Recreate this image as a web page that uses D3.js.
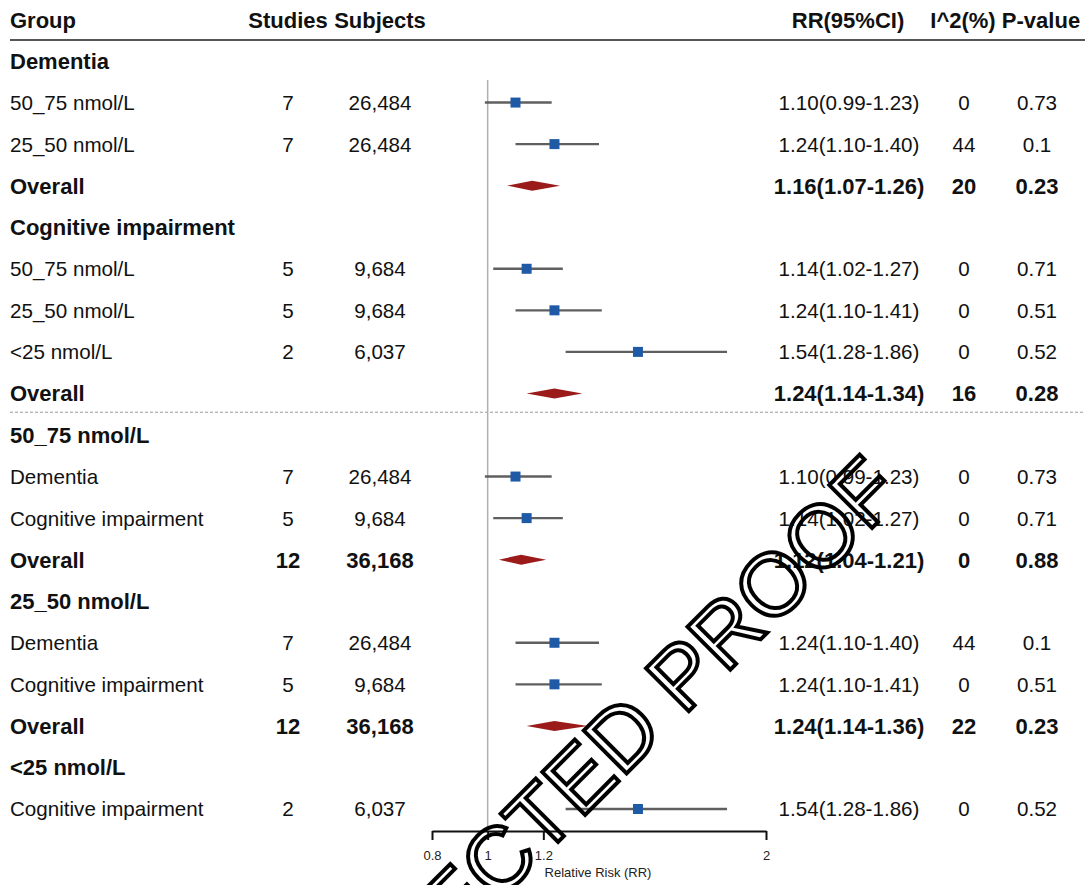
<!DOCTYPE html>
<html>
<head>
<meta charset="utf-8">
<script src="https://cdn.jsdelivr.net/npm/d3@7"></script>
<style>
  body { margin: 0; background: #fff; }
  svg { display: block; font-family: "Liberation Sans", Arial, sans-serif; }
</style>
</head>
<body>
<svg id="chart" width="1090" height="885"></svg>
<script>

// rows of the forest plot, top to bottom
var groupLabels = ["Dementia", "50_75 nmol/L", "25_50 nmol/L", "Overall",
    "Cognitive impairment", "50_75 nmol/L", "25_50 nmol/L", "<25 nmol/L", "Overall",
    "50_75 nmol/L", "Dementia", "Cognitive impairment", "Overall",
    "25_50 nmol/L", "Dementia", "Cognitive impairment", "Overall",
    "<25 nmol/L", "Cognitive impairment"];
var rowKinds = ["head", "study", "study", "overall",
    "head", "study", "study", "study", "overall",
    "head", "study", "study", "overall",
    "head", "study", "study", "overall",
    "head", "study"];
var studies = [null, 7, 7, null, null, 5, 5, 2, null, null, 7, 5, 12, null, 7, 5, 12, null, 2];
var subjects = [null, 26484, 26484, null, null, 9684, 9684, 6037, null, null, 26484, 9684, 36168, null, 26484, 9684, 36168, null, 6037];
var rr = [null, 1.10, 1.24, 1.16, null, 1.14, 1.24, 1.54, 1.24, null, 1.10, 1.14, 1.12, null, 1.24, 1.24, 1.24, null, 1.54];
var lower = [null, 0.99, 1.10, 1.07, null, 1.02, 1.10, 1.28, 1.14, null, 0.99, 1.02, 1.04, null, 1.10, 1.10, 1.14, null, 1.28];
var upper = [null, 1.23, 1.40, 1.26, null, 1.27, 1.41, 1.86, 1.34, null, 1.23, 1.27, 1.21, null, 1.40, 1.41, 1.36, null, 1.86];
var i2 = [null, 0, 44, 20, null, 0, 0, 0, 16, null, 0, 0, 0, null, 44, 0, 22, null, 0];
var pValues = ["", "0.73", "0.1", "0.23", "", "0.71", "0.51", "0.52", "0.28", "", "0.73", "0.71", "0.88", "", "0.1", "0.51", "0.23", "", "0.52"];

var headers = ["Group", "Studies", "Subjects", "RR(95%CI)", "I^2(%)", "P-value"];
var tickValues = [0.8, 1, 1.2, 2];
var axisTitle = "Relative Risk (RR)";

var rows = groupLabels.map(function(label, i) {
    return {label: label, kind: rowKinds[i], studies: studies[i], subjects: subjects[i],
        rr: rr[i], lower: lower[i], upper: upper[i], i2: i2[i], p: pValues[i], index: i};
});

var svg = d3.select("#chart");
var fmt = d3.format(",");
var fmt2 = d3.format(".2f");

var x = d3.scaleLinear().domain([0.8, 2]).range([432, 766]);
var y = d3.scaleLinear().domain([0, rows.length - 1]).range([61, 809]);

var colX = {group: 10, studies: 288, subjects: 380, ci: 849, i2: 964, p: 1037};
var headerX = [colX.group, colX.studies, colX.subjects, 848, 963, 1041];

// header
svg.selectAll(".header").data(headers).enter().append("text")
    .attr("class", "header")
    .attr("x", function(d, i) { return headerX[i]; })
    .attr("y", 20).attr("dy", "0.36em")
    .attr("text-anchor", function(d, i) { return i === 0 ? "start" : "middle"; })
    .style("font-size", "22px").style("font-weight", "bold").style("fill", "#111")
    .text(function(d) { return d; });

svg.append("line").attr("x1", 10).attr("x2", 1085).attr("y1", 40).attr("y2", 40)
    .style("stroke", "#555").style("stroke-width", 2);

// dotted separator between the two halves
var sepY = (y(8) + y(9)) / 2 - 2;
svg.append("line").attr("x1", 10).attr("x2", 1085).attr("y1", sepY).attr("y2", sepY)
    .style("stroke", "#999").style("stroke-width", 1).style("stroke-dasharray", "3,2");

// reference line at RR = 1
svg.append("line").attr("x1", x(1)).attr("x2", x(1)).attr("y1", 80).attr("y2", 831)
    .style("stroke", "#b0b0b0").style("stroke-width", 1.5);

var row = svg.selectAll(".row").data(rows).enter().append("g")
    .attr("class", "row")
    .attr("transform", function(d) { return "translate(0," + y(d.index) + ")"; });

function styleText(sel) {
    sel.attr("dy", "0.36em")
        .style("font-size", function(d) { return d.kind === "study" ? "20.6px" : "22px"; })
        .style("font-weight", function(d) { return d.kind === "study" ? "normal" : "bold"; })
        .style("fill", "#111");
}

row.append("text").attr("x", colX.group).call(styleText).text(function(d) { return d.label; });

row.filter(function(d) { return d.studies !== null; }).append("text")
    .attr("x", colX.studies).attr("text-anchor", "middle").call(styleText)
    .text(function(d) { return d.studies; });

row.filter(function(d) { return d.subjects !== null; }).append("text")
    .attr("x", colX.subjects).attr("text-anchor", "middle").call(styleText)
    .text(function(d) { return fmt(d.subjects); });

var withRR = row.filter(function(d) { return d.rr !== null; });

withRR.append("text").attr("x", colX.ci).attr("text-anchor", "middle").call(styleText)
    .text(function(d) { return fmt2(d.rr) + "(" + fmt2(d.lower) + "-" + fmt2(d.upper) + ")"; });

withRR.append("text").attr("x", colX.i2).attr("text-anchor", "middle").call(styleText)
    .text(function(d) { return d.i2; });

withRR.append("text").attr("x", colX.p).attr("text-anchor", "middle").call(styleText)
    .text(function(d) { return d.p; });

// study estimates: CI line + square
var studyRows = row.filter(function(d) { return d.kind === "study"; });

studyRows.append("line")
    .attr("x1", function(d) { return x(d.lower); })
    .attr("x2", function(d) { return x(d.upper); })
    .style("stroke", "#5f5f5f").style("stroke-width", 2.4);

studyRows.append("rect")
    .attr("x", function(d) { return x(d.rr) - 5; }).attr("y", -5)
    .attr("width", 10).attr("height", 10)
    .style("fill", "#1f5aa6");

// pooled estimates: diamond
row.filter(function(d) { return d.kind === "overall"; }).append("path")
    .attr("d", function(d) {
        return "M" + x(d.lower) + ",0L" + x(d.rr) + ",-5L" + x(d.upper) + ",0L" + x(d.rr) + ",5Z";
    })
    .style("fill", "#9b1a1a");

// x axis
var axis = svg.append("g").attr("transform", "translate(0,831)")
    .call(d3.axisBottom(x).tickValues(tickValues).tickFormat(d3.format("")).tickSize(9).tickSizeOuter(0));

axis.select(".domain").style("stroke", "#111").style("stroke-width", 2);
axis.selectAll(".tick line").style("stroke", "#111").style("stroke-width", 2);
axis.selectAll(".tick text").style("font-size", "13px").style("fill", "#222")
    .style("font-family", "Liberation Sans, Arial, sans-serif").attr("y", 20);

svg.append("text").attr("x", 598).attr("y", 877).attr("text-anchor", "middle")
    .style("font-size", "13px").style("fill", "#222").text(axisTitle);

// proof watermark
svg.append("text")
    .attr("transform", "translate(905,495) rotate(-45)")
    .attr("text-anchor", "end")
    .style("font-size", "88px")
    .style("fill", "none").style("stroke", "#000").style("stroke-width", 4)
    .text("CORRECTED PROOF");

</script>
</body>
</html>
